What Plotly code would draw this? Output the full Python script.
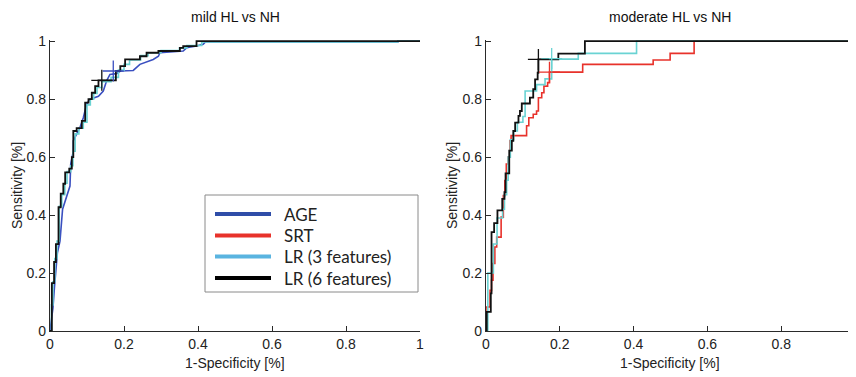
import plotly.graph_objects as go

# ---------------- data (ROC operating points) ----------------
titles = ["mild HL vs NH", "moderate HL vs NH"]
series_names = ["AGE", "SRT", "LR (3 features)", "LR (6 features)"]
tick_vals = [0, 0.2, 0.4, 0.6, 0.8, 1.0]
tick_text = ["0", "0.2", "0.4", "0.6", "0.8", "1"]

# mild HL vs NH
mild_age_fpr = [0, 0.003, 0.008, 0.012, 0.016, 0.02, 0.027, 0.03, 0.034, 0.054, 0.056, 0.063, 0.063, 0.072,
                0.081, 0.09, 0.099, 0.108, 0.131, 0.144, 0.153, 0.162, 0.18, 0.19, 0.225, 0.243, 0.279, 0.293,
                0.297, 0.36, 0.369, 0.396, 0.414, 0.42, 0.94, 0.94, 1.0]
mild_age_tpr = [0, 0.03, 0.08, 0.15, 0.22, 0.27, 0.31, 0.36, 0.42, 0.50, 0.577, 0.62, 0.656, 0.68,
                0.702, 0.736, 0.782, 0.80, 0.81, 0.828, 0.863, 0.885, 0.888, 0.897, 0.899, 0.92, 0.937, 0.948,
                0.96, 0.966, 0.977, 0.983, 0.989, 0.997, 0.997, 1.0, 1.0]

mild_lr3_fpr = [0, 0.004, 0.008, 0.013, 0.019, 0.025, 0.032, 0.04, 0.046, 0.056, 0.062, 0.068, 0.078, 0.09,
                0.1, 0.109, 0.118, 0.127, 0.14, 0.165, 0.185, 0.2, 0.215, 0.245, 0.265, 0.3, 0.35, 0.37, 0.41,
                0.94, 1.0]
mild_lr3_tpr = [0, 0.09, 0.17, 0.25, 0.31, 0.43, 0.47, 0.51, 0.55, 0.57, 0.62, 0.68, 0.70, 0.72,
                0.78, 0.80, 0.82, 0.84, 0.86, 0.875, 0.90, 0.92, 0.935, 0.95, 0.96, 0.968, 0.977, 0.985, 0.997,
                1.0, 1.0]

mild_lr6_fpr = [0, 0.005, 0.011, 0.016, 0.023, 0.029, 0.036, 0.041, 0.052, 0.059, 0.063, 0.072, 0.086, 0.095,
                0.104, 0.113, 0.122, 0.131, 0.178, 0.19, 0.203, 0.243, 0.261, 0.293, 0.351, 0.36, 0.396, 1.0]
mild_lr6_tpr = [0, 0.165, 0.238, 0.30, 0.427, 0.474, 0.508, 0.547, 0.56, 0.60, 0.69, 0.70, 0.725, 0.788,
                0.80, 0.822, 0.845, 0.865, 0.897, 0.914, 0.937, 0.948, 0.96, 0.966, 0.977, 0.983, 1.0, 1.0]

# moderate HL vs NH
mod_srt_fpr = [0, 0.0, 0.011, 0.015, 0.019, 0.024, 0.029, 0.041, 0.047, 0.051, 0.055, 0.06, 0.065, 0.068,
               0.11, 0.116, 0.128, 0.137, 0.142, 0.151, 0.157, 0.167, 0.172, 0.262, 0.453, 0.499, 0.564, 1.0]
mod_srt_tpr = [0, 0.083, 0.14, 0.175, 0.233, 0.29, 0.324, 0.393, 0.467, 0.519, 0.576, 0.60, 0.656, 0.674,
               0.708, 0.736, 0.748, 0.759, 0.805, 0.822, 0.845, 0.857, 0.893, 0.92, 0.935, 0.958, 1.0, 1.0]

mod_lr3_fpr = [0, 0.005, 0.02, 0.03, 0.045, 0.05, 0.056, 0.06, 0.066, 0.075, 0.085, 0.1, 0.106, 0.137,
               0.16, 0.178, 0.25, 0.408, 1.0]
mod_lr3_tpr = [0, 0.2, 0.3, 0.39, 0.42, 0.47, 0.52, 0.6, 0.66, 0.69, 0.72, 0.74, 0.828, 0.85,
               0.87, 0.938, 0.958, 1.0, 1.0]

mod_lr6_fpr = [0, 0.002, 0.013, 0.015, 0.022, 0.031, 0.044, 0.05, 0.053, 0.063, 0.07, 0.074, 0.079, 0.088,
               0.092, 0.097, 0.119, 0.128, 0.133, 0.14, 0.142, 0.196, 0.268, 1.0]
mod_lr6_tpr = [0, 0.066, 0.13, 0.341, 0.372, 0.416, 0.456, 0.479, 0.544, 0.622, 0.656, 0.69, 0.719, 0.742,
               0.759, 0.785, 0.805, 0.834, 0.868, 0.891, 0.937, 0.957, 1.0, 1.0]

# operating points marked with "+"
mild_op_fpr = [0.171, 0.14]
mild_op_tpr = [0.897, 0.865]
mild_op_series = ["AGE", "LR (6 features)"]
mod_op_fpr = [0.172, 0.178, 0.142]
mod_op_tpr = [0.893, 0.94, 0.937]
mod_op_series = ["SRT", "LR (3 features)", "LR (6 features)"]

# ---------------- styles ----------------
curve_colors = {"AGE": "#3A4FC0", "SRT": "#E8322B", "LR (3 features)": "#6AD3D3", "LR (6 features)": "#111111"}
legend_colors = {"AGE": "#2F4DA8", "SRT": "#E8322B", "LR (3 features)": "#5AB4E0", "LR (6 features)": "#000000"}
axis_col = "#2a2a2a"
narrow = "Liberation Sans Narrow, Arial Narrow, Liberation Sans, Arial, sans-serif"

fig = go.Figure()


def add_curve(x, y, name, xa, ya, shape):
    fig.add_trace(go.Scatter(x=x, y=y, mode="lines", name=name, xaxis=xa, yaxis=ya,
                             line=dict(color=curve_colors[name], width=1.6 if name != "LR (6 features)" else 1.8,
                                       shape=shape),
                             showlegend=False, hoverinfo="skip"))


add_curve(mild_age_fpr, mild_age_tpr, "AGE", "x", "y", "linear")
add_curve(mild_lr3_fpr, mild_lr3_tpr, "LR (3 features)", "x", "y", "hv")
add_curve(mild_lr6_fpr, mild_lr6_tpr, "LR (6 features)", "x", "y", "hv")

add_curve(mod_srt_fpr, mod_srt_tpr, "SRT", "x2", "y2", "hv")
add_curve(mod_lr3_fpr, mod_lr3_tpr, "LR (3 features)", "x2", "y2", "hv")
add_curve(mod_lr6_fpr, mod_lr6_tpr, "LR (6 features)", "x2", "y2", "hv")

for fx, fy, s in zip(mild_op_fpr, mild_op_tpr, mild_op_series):
    fig.add_trace(go.Scatter(x=[fx], y=[fy], mode="markers", xaxis="x", yaxis="y", showlegend=False,
                             hoverinfo="skip", cliponaxis=False,
                             marker=dict(symbol="cross-thin", size=15,
                                         line=dict(color=curve_colors[s], width=1.3))))
for fx, fy, s in zip(mod_op_fpr, mod_op_tpr, mod_op_series):
    fig.add_trace(go.Scatter(x=[fx], y=[fy], mode="markers", xaxis="x2", yaxis="y2", showlegend=False,
                             hoverinfo="skip", cliponaxis=False,
                             marker=dict(symbol="cross-thin", size=15,
                                         line=dict(color=curve_colors[s], width=1.3))))

# the page body adds an 8 px offset; lay the figure out in window pixels minus that offset
OFF = 8
W, H = 856 - OFF, 377 - OFF
ML, MT = 50 - OFF, 40 - OFF
MR = W - (855 - OFF)
MB = H - (331 - OFF)
PW = W - ML - MR
PH = H - MT - MB

left_dom = [0, (420 - 50) / PW]
right_dom = [(486 - 50) / PW, 1.0]

axis_common = dict(range=[0, 1.004], showgrid=False, zeroline=False, showline=True, linecolor=axis_col,
                   linewidth=1.3, ticks="inside", ticklen=5, tickwidth=1.2, tickcolor=axis_col,
                   tickvals=tick_vals, ticktext=tick_text, mirror=False, ticklabeloverflow="allow",
                   tickfont=dict(family=narrow, size=14, color="#222222"), fixedrange=True)
xaxis_common = dict(axis_common)
xaxis_common["range"] = [0, 1.0]

fig.update_layout(
    width=W, height=H,
    margin=dict(l=ML, r=MR, t=MT, b=MB, autoexpand=False),
    paper_bgcolor="white", plot_bgcolor="white",
    xaxis=dict(xaxis_common, domain=left_dom, anchor="y"),
    yaxis=dict(axis_common, domain=[0, 1], anchor="x"),
    xaxis2=dict(xaxis_common, domain=right_dom, anchor="y2"),
    yaxis2=dict(axis_common, domain=[0, 1], anchor="x2"),
    showlegend=False,
)


def px_to_paper_x(px):
    # px given in reference-window pixels
    return (px - 50) / PW


def py_to_paper_y(py):
    return (331 - py) / PH


annotations = []
# subplot titles
for t, cx in zip(titles, [235, 670]):
    annotations.append(dict(text=t, x=px_to_paper_x(cx), y=py_to_paper_y(17), xref="paper", yref="paper",
                            showarrow=False, xanchor="center", yanchor="middle",
                            font=dict(family=narrow, size=14, color="#111111")))
# axis titles
for cx in [235, 670]:
    annotations.append(dict(text="1-Specificity [%]", x=px_to_paper_x(cx), y=py_to_paper_y(363),
                            xref="paper", yref="paper", showarrow=False, xanchor="center", yanchor="middle",
                            font=dict(family=narrow, size=14, color="#222222")))
for cx in [17, 452]:
    annotations.append(dict(text="Sensitivity [%]", x=px_to_paper_x(cx), y=py_to_paper_y(186),
                            xref="paper", yref="paper", showarrow=False, xanchor="center", yanchor="middle",
                            textangle=-90, font=dict(family=narrow, size=14, color="#222222")))

# legend (drawn in the left panel)
shapes = [dict(type="rect", xref="paper", yref="paper",
               x0=px_to_paper_x(205), x1=px_to_paper_x(418), y0=py_to_paper_y(292), y1=py_to_paper_y(195),
               line=dict(color="#8a8a8a", width=1), fillcolor="white", layer="above")]
row_y = [214, 235.5, 256.5, 278]
for name, ry in zip(series_names, row_y):
    shapes.append(dict(type="line", xref="paper", yref="paper",
                       x0=px_to_paper_x(215), x1=px_to_paper_x(271), y0=py_to_paper_y(ry), y1=py_to_paper_y(ry),
                       line=dict(color=legend_colors[name], width=4), layer="above"))
    annotations.append(dict(text=name, x=px_to_paper_x(282), y=py_to_paper_y(ry), xref="paper", yref="paper",
                            showarrow=False, xanchor="left", yanchor="middle",
                            font=dict(family="Lato, Open Sans, sans-serif", size=17, color="#222222")))

fig.update_layout(annotations=annotations, shapes=shapes)

fig.write_html("out.html")
